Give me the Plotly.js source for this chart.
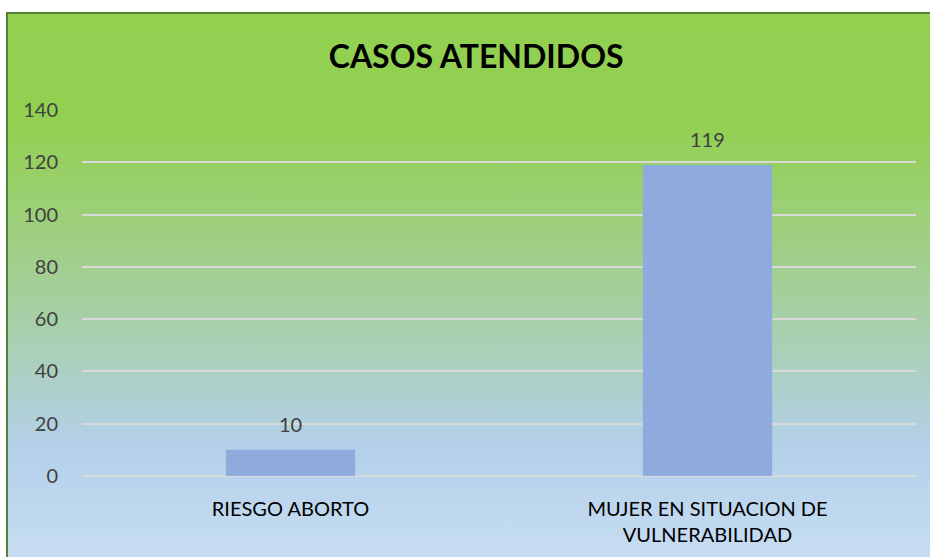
<!DOCTYPE html>
<html>
<head>
<meta charset="utf-8">
<script src="https://cdn.plot.ly/plotly-3.0.1.min.js"></script>
<style>
  html, body { margin: 0; padding: 0; background: #ffffff; }
  #bg {
    position: absolute; left: 6px; top: 12px; width: 940px; height: 560px;
    box-sizing: border-box;
    border-left: 2px solid #548235; border-top: 2px solid #548235;
    background: linear-gradient(to bottom, #92D050 0%, #93D052 20%, #A3CF95 48%, #B4D0EA 78%, #C9DFF3 100%);
  }
  #chart { position: absolute; left: 0; top: 0; width: 930px; height: 557px; }
</style>
</head>
<body>
<div id="bg"></div>
<div id="chart"></div>
<script>
const categories = ["RIESGO ABORTO", "MUJER EN SITUACION DE<br>VULNERABILIDAD"];
const values = [10, 119];
const tickValues = [0, 20, 40, 60, 80, 100, 120, 140];

const FONT = "Lato, 'Open Sans', sans-serif";

const trace = {
  type: "bar",
  x: categories,
  y: values,
  marker: { color: "#8FAADC" },
  hoverinfo: "skip"
};

const annotations = categories.map((c, i) => ({
  x: c, y: values[i], xref: "x", yref: "y",
  text: String(values[i]),
  showarrow: false,
  yanchor: "bottom",
  yshift: 12,
  font: { family: FONT, size: 20, color: "#404040" }
}));

const layout = {
  width: 930, height: 557,
  paper_bgcolor: "rgba(0,0,0,0)",
  plot_bgcolor: "rgba(0,0,0,0)",
  margin: { l: 82, r: 14, t: 110, b: 81 },
  showlegend: false,
  bargap: 0.69,
  annotations: annotations,
  title: {
    text: "<b>CASOS ATENDIDOS</b>",
    font: { family: FONT, size: 32, color: "#000000" },
    x: 0.512, xanchor: "center", y: 0.898, yanchor: "middle"
  },
  xaxis: {
    type: "category",
    tickfont: { family: FONT, size: 20, color: "#000000" },
    showline: false, ticks: "outside", ticklen: 15, tickcolor: "rgba(0,0,0,0)",
    showgrid: false, zeroline: false,
    fixedrange: true
  },
  yaxis: {
    range: [0, 140],
    tickvals: tickValues,
    ticktext: tickValues.map(String),
    tickfont: { family: FONT, size: 20, color: "#404040" },
    showgrid: true, gridcolor: "#D9D9D9", gridwidth: 2,
    zeroline: true, zerolinecolor: "#D9D9D9", zerolinewidth: 2,
    showline: false, ticks: "outside", ticklen: 19, tickcolor: "rgba(0,0,0,0)",
    fixedrange: true
  }
};

Plotly.newPlot("chart", [trace], layout, { displayModeBar: false, staticPlot: true });
</script>
</body>
</html>
